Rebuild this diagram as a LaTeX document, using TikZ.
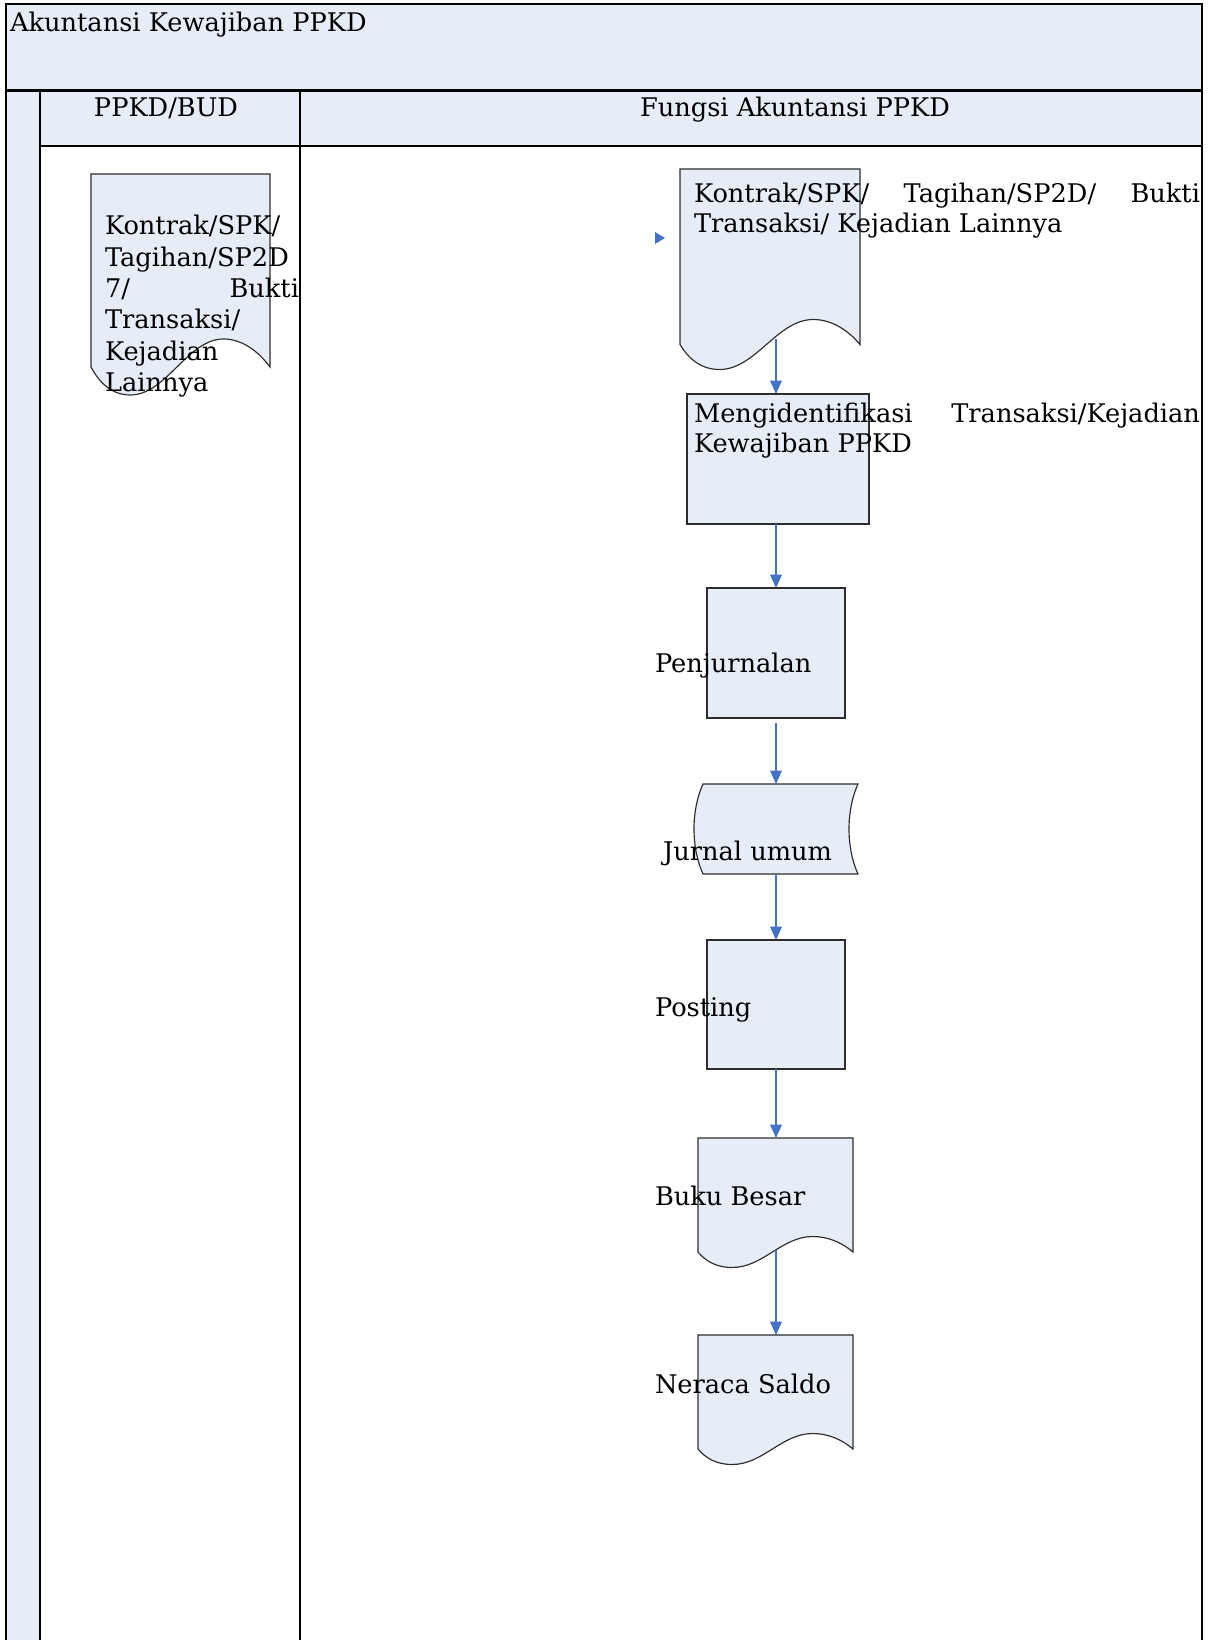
\documentclass[tikz,border=0pt]{standalone}
\usepackage{fontspec}
\setmainfont{DejaVu Serif}
\usetikzlibrary{arrows.meta}
\definecolor{laneblue}{RGB}{231,237,247}
\definecolor{arrowblue}{RGB}{68,114,196}
\definecolor{edgegray}{RGB}{45,45,45}
\newcommand\wavedoc[5]{% #1 x1, #2 x2, #3 top, #4 side bottom, #5 amplitude
  \pgfmathsetmacro\wdw{#2-#1}
  \pgfmathsetmacro\wdpk{#1+0.74*\wdw}
  \pgfmathsetmacro\wdmn{#1+0.22*\wdw}
  \draw[shapeline] (#1,#3) -- (#2,#3) -- (#2,#4)
    .. controls ({#2-0.07*\wdw},{#4-0.6*#5}) and ({\wdpk+0.1*\wdw},{#4-#5}) .. (\wdpk,{#4-#5})
    .. controls ({\wdpk-0.2*\wdw},{#4-#5}) and ({\wdmn+0.2*\wdw},{#4+#5}) .. (\wdmn,{#4+#5})
    .. controls ({\wdmn-0.1*\wdw},{#4+#5}) and ({#1+0.05*\wdw},{#4+0.6*#5}) .. (#1,#4) -- cycle;}
\begin{document}
\begin{tikzpicture}[x=0.6pt,y=-0.6pt,
  txt/.style={anchor=base west,inner sep=0pt,outer sep=0pt,font=\fontsize{15.4}{18.5}\selectfont},
  flowbox/.style={draw=edgegray,fill=laneblue,line width=0.7pt,inner sep=0pt,outer sep=0pt},
  shapeline/.style={draw=edgegray,fill=laneblue,line width=0.7pt},
  flowarrow/.style={draw=arrowblue,line width=0.8pt,-{Triangle[width=7pt,length=8pt]}},
  frameline/.style={line width=1.2pt}]
\useasboundingbox (0,0) rectangle (1207,1640);
% backgrounds
\fill[laneblue] (6,4) rectangle (1202,91);
\fill[laneblue] (40,91) rectangle (1202,146);
\fill[laneblue] (6,91) rectangle (40,1640);
% frame lines
\draw[frameline] (6,1640) -- (6,4) -- (1202,4) -- (1202,1640);
\draw[line width=1.8pt] (6,91) -- (1202,91);
\draw[frameline] (40,91) -- (40,1640);
\draw[frameline] (300,91) -- (300,1640);
\draw[line width=0.8pt] (40,146) -- (1202,146);
% shapes
\wavedoc{91}{270}{174}{367}{28}
\wavedoc{680}{860}{169}{344.5}{25}
\node[flowbox,minimum width=109.2pt,minimum height=78pt] (ident) at (778,459) {};
\node[flowbox,minimum width=82.8pt,minimum height=78pt] (jurnalbox) at (776,653) {};
\draw[shapeline] (703,784) -- (858,784) .. controls (846,810) and (846,848) .. (858,874)
  -- (703,874) .. controls (691,848) and (691,810) .. (703,784) -- cycle;
\node[flowbox,minimum width=82.8pt,minimum height=77.4pt] (posting) at (776,1004.5) {};
\wavedoc{698}{853}{1138}{1252}{15.5}
\wavedoc{698}{853}{1335}{1449}{15.5}
% connector end points
\coordinate (docout) at (776,339);
\coordinate (jutop) at (776,784);
\coordinate (jubot) at (776,874);
\coordinate (bbtop) at (776,1138);
\coordinate (bbout) at (776,1250);
\coordinate (nstop) at (776,1335);
% stray arrow head
\fill[arrowblue] (655,232) -- (665,238) -- (655,244) -- cycle;
% connectors
\draw[flowarrow] (docout) -- (docout |- ident.north);
\draw[flowarrow] (docout |- ident.south) -- (jurnalbox.north);
\draw[flowarrow,shorten <=3pt] (jurnalbox.south) -- (jutop);
\draw[flowarrow] (jubot) -- (posting.north);
\draw[flowarrow] (posting.south) -- (bbtop);
\draw[flowarrow] (bbout) -- (nstop);
% texts
\node[txt] (title) at (10,31.7) {Akuntansi Kewajiban PPKD};
\node[txt,anchor=base] (laneA) at (166,117) {PPKD/BUD};
\node[txt,anchor=base] (laneB) at (795,117) {Fungsi Akuntansi PPKD};
\node[txt] (srcA) at (105,235) {Kontrak/SPK/};
\node[txt] (srcB) at (105,266.3) {Tagihan/SP2D};
\node[txt] (srcC) at (105,297.6) {\hbox to 116.4pt{7/\hfill Bukti}};
\node[txt] (srcD) at (105,329) {Transaksi/};
\node[txt] (srcE) at (105,360.2) {Kejadian};
\node[txt] (srcF) at (105,391.5) {Lainnya};
\node[txt] (docA) at (694,203) {\hbox to 303.6pt{Kontrak/SPK/\hfill Tagihan/SP2D/\hfill Bukti}};
\node[txt] (docB) at (694,233) {Transaksi/ Kejadian Lainnya};
\node[txt] (idA) at (694,422) {\hbox to 303.6pt{Mengidentifikasi\hfill Transaksi/Kejadian}};
\node[txt] (idB) at (694,452) {Kewajiban PPKD};
\node[txt] (tjurnal) at (655,672) {Penjurnalan};
\node[txt] (tumum) at (663,860) {Jurnal umum};
\node[txt] (tposting) at (655,1016) {Posting};
\node[txt] (tbuku) at (655,1205) {Buku Besar};
\node[txt] (tneraca) at (655,1393) {Neraca Saldo};
\end{tikzpicture}
\end{document}
